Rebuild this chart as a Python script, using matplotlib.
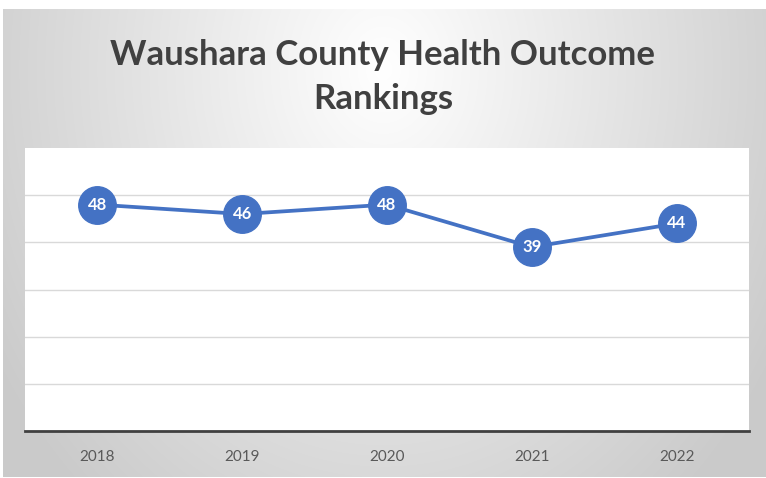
import numpy as np
import matplotlib
matplotlib.use("Agg")
import matplotlib.pyplot as plt

years = ["2018", "2019", "2020", "2021", "2022"]
rankings = [48, 46, 48, 39, 44]
title = "Waushara County Health Outcome\nRankings"

W, H = 766, 478
fig = plt.figure(figsize=(W / 100, H / 100), dpi=100)
fig.patch.set_facecolor("white")

# gradient background panel
bg = fig.add_axes([3 / W, 1 / H, (W - 3) / W, (H - 10) / H])
bg.set_axis_off()
yy, xx = np.mgrid[0:468, 0:763]
cx, cy = 380, 60
d = np.sqrt(((xx - cx) / 420.0) ** 2 + ((yy - cy) / 520.0) ** 2)
v = np.clip(1.0 - 0.19 * d, 0.795, 1.0)
img = np.dstack([v, v, v])
bg.imshow(img, aspect="auto", extent=[0, 1, 0, 1], origin="upper")
bg.set_xlim(0, 1)
bg.set_ylim(0, 1)

fig.text(0.5, 1 - 77 / H, title, ha="center", va="center", fontsize=25,
         fontweight="bold", color="#404040", family=["Lato", "DejaVu Sans"],
         linespacing=1.45)

left, right, top, bottom = 25, 749, 148, 431
ax = fig.add_axes([left / W, 1 - bottom / H, (right - left) / W, (bottom - top) / H])
ax.set_facecolor("white")
x = np.arange(len(years))
ax.set_xlim(-0.5, len(years) - 0.5)
ax.set_ylim(0, 60)
ax.set_yticks([10, 20, 30, 40, 50])
ax.yaxis.grid(True, color="#d9d9d9", linewidth=1)
ax.set_axisbelow(True)
ax.tick_params(axis="y", length=0, labelleft=False)
ax.tick_params(axis="x", length=0, pad=14, labelsize=11, labelcolor="#595959")
ax.set_xticks(x)
ax.set_xticklabels(years, family=["Lato", "DejaVu Sans"])
for s in ["top", "left", "right"]:
    ax.spines[s].set_visible(False)
ax.spines["bottom"].set_color("#404040")
ax.spines["bottom"].set_linewidth(2)

ax.plot(x, rankings, color="#4472C4", linewidth=2.7, marker="o",
        markersize=27, markerfacecolor="#4472C4", markeredgecolor="#4472C4",
        zorder=3)
for xi, r in zip(x, rankings):
    ax.text(xi, r, str(r), ha="center", va="center", color="white",
            fontsize=12, fontweight="bold", family=["Lato", "DejaVu Sans"],
            zorder=4)

fig.savefig("out.png", dpi=100)
